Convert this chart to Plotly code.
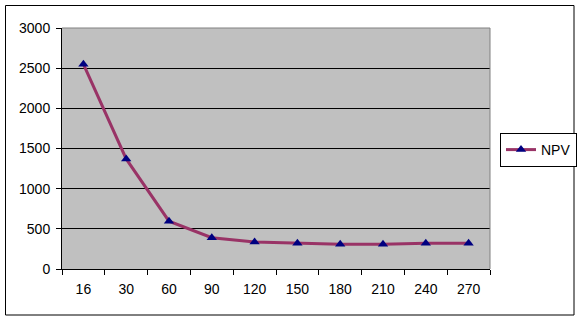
import plotly.graph_objects as go

categories = ["16", "30", "60", "90", "120", "150", "180", "210", "240", "270"]
npv = [2550, 1370, 595, 390, 335, 320, 308, 308, 320, 320]
y_ticks = [0, 500, 1000, 1500, 2000, 2500, 3000]

fig = go.Figure()
fig.add_trace(go.Scatter(
    x=categories, y=npv, name="NPV", mode="lines+markers",
    line=dict(color="#993366", width=3),
    marker=dict(symbol="triangle-up", color="#000080", size=9),
))

W, H = 581, 321
ml, mr, mt, mb = 62, 91, 28, 52
pw, ph = W - ml - mr, H - mt - mb

def px_x(x):
    return (x - ml) / pw

def px_y(y):
    return (H - mb - y) / ph

fig.update_layout(
    width=W, height=H,
    margin=dict(l=ml, r=mr, t=mt, b=mb, pad=0, autoexpand=False),
    paper_bgcolor="white", plot_bgcolor="#c0c0c0",
    font=dict(family="Liberation Sans, Arial", size=14, color="black"),
    showlegend=True,
    legend=dict(
        x=px_x(500), y=px_y(133), xanchor="left", yanchor="top",
        bordercolor="black", borderwidth=1, bgcolor="white",
        font=dict(size=14), itemwidth=30,
        tracegroupgap=0,
    ),
    xaxis=dict(
        type="category", range=[-0.5, len(categories) - 0.5], autorange=False,
        showgrid=False, showline=True, linecolor="black", linewidth=1,
        ticks="outside", tickson="boundaries", ticklen=5, tickcolor="black",
        ticklabelstandoff=7, zeroline=False, mirror=False,
    ),
    yaxis=dict(
        range=[0, 3000], tickvals=y_ticks, showgrid=True, gridcolor="black", gridwidth=1,
        showline=True, linecolor="black", linewidth=1, ticks="outside", ticklen=5,
        tickcolor="black", ticklabelstandoff=3, zeroline=False,
    ),
    shapes=[
        dict(type="rect", xref="paper", yref="paper",
             x0=px_x(5.5), x1=px_x(574), y0=px_y(315), y1=px_y(5.5),
             line=dict(color="black", width=1), fillcolor="rgba(0,0,0,0)", layer="below"),
        dict(type="line", xref="paper", yref="paper", x0=0, x1=1, y0=1, y1=1,
             line=dict(color="#808080", width=1)),
        dict(type="line", xref="paper", yref="paper", x0=1, x1=1, y0=0, y1=1,
             line=dict(color="#808080", width=1)),
    ],
)

fig.write_html("out.html")
